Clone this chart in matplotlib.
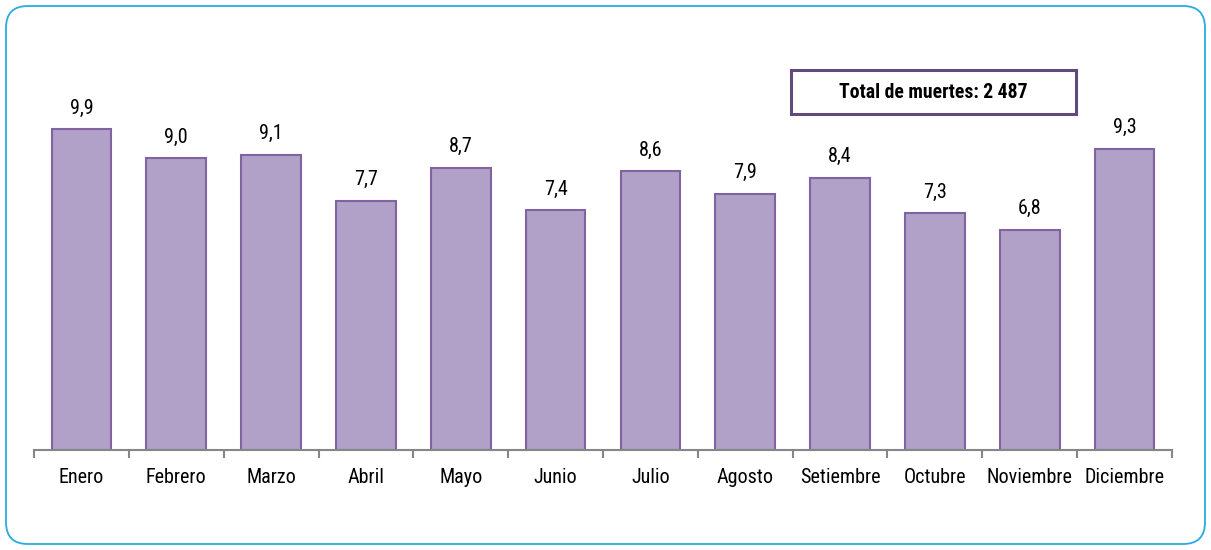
import matplotlib
matplotlib.use("Agg")
import matplotlib.pyplot as plt
from matplotlib.patches import FancyBboxPatch
from matplotlib import font_manager

months = ["Enero", "Febrero", "Marzo", "Abril", "Mayo", "Junio", "Julio",
          "Agosto", "Setiembre", "Octubre", "Noviembre", "Diciembre"]
values = [9.9, 9.0, 9.1, 7.7, 8.7, 7.4, 8.6, 7.9, 8.4, 7.3, 6.8, 9.3]
total_label = "Total de muertes: 2 487"

names = {f.name for f in font_manager.fontManager.ttflist}
narrow = [n for n in ["Liberation Sans Narrow", "Roboto Condensed", "Arial Narrow"] if n in names]
fam = narrow[:1] + ["Liberation Sans", "DejaVu Sans"]
plt.rcParams["font.family"] = fam
fs = 14.5 if narrow else 13.2

W, H = 1211, 550
fig = plt.figure(figsize=(W / 100, H / 100), dpi=100)

# rounded border
border = FancyBboxPatch((6 / W, 6 / H), (W - 12) / W, (H - 12) / H,
                        boxstyle="round,pad=0,rounding_size=0.018",
                        transform=fig.transFigure, fill=False,
                        edgecolor="#29ABE2", linewidth=1.3, mutation_aspect=W / H)
fig.patches.append(border)

ax_left, ax_right = 34 / W, 1172 / W
ax_bottom, ax_top = (H - 450) / H, (H - 40) / H
ax = fig.add_axes([ax_left, ax_bottom, ax_right - ax_left, ax_top - ax_bottom])

x = list(range(len(months)))
ax.bar(x, values, width=0.63, color="#B1A0C7", edgecolor="#8064A2", linewidth=1.5, zorder=2)
ax.set_xlim(-0.5, len(months) - 0.5)
ax.set_ylim(0, 410 / 32.4)

for xi, v in zip(x, values):
    ax.annotate(f"{v:.1f}".replace(".", ","), (xi, v), xytext=(0, 8.5),
                textcoords="offset points", ha="center", va="bottom", fontsize=fs)

for s in ["top", "right", "left"]:
    ax.spines[s].set_visible(False)
ax.spines["bottom"].set_color("#868686")
ax.spines["bottom"].set_linewidth(1.5)
ax.set_yticks([])
ax.set_xticks([i - 0.5 for i in range(len(months) + 1)])
ax.set_xticklabels([])
ax.set_xticks(x, minor=True)
ax.set_xticklabels(months, minor=True, fontsize=fs)
ax.tick_params(axis="x", which="major", direction="out", length=6, width=1.5, color="#868686")
ax.tick_params(axis="x", which="minor", length=0, pad=13)

# total box
box = FancyBboxPatch((791 / W, (H - 114) / H), (1076 - 791) / W, 44 / H,
                     boxstyle="square,pad=0", transform=fig.transFigure,
                     facecolor="white", edgecolor="#604A7B", linewidth=2.2)
fig.patches.append(box)
fig.text((791 + 1076) / 2 / W, (H - 92) / H, total_label, ha="center", va="center",
         fontsize=fs - 0.3, fontweight="bold")

fig.savefig("out.png", dpi=100)
